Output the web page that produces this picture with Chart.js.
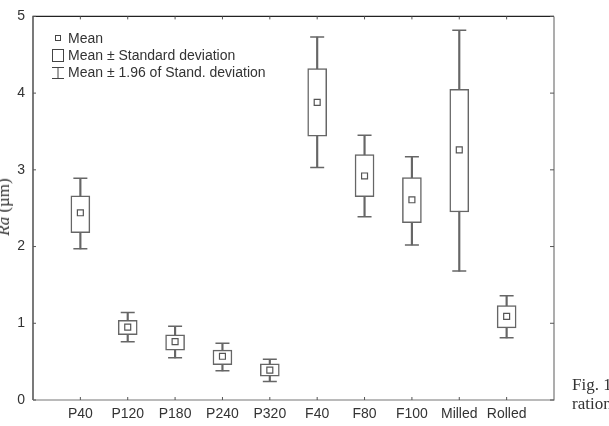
<!DOCTYPE html>
<html>
<head>
<meta charset="utf-8">
<script src="https://cdn.jsdelivr.net/npm/chart.js@4.4.1/dist/chart.umd.min.js"></script>
<style>
  html, body { margin: 0; padding: 0; background: #fff; overflow: hidden; }
  #wrap { position: relative; width: 609px; height: 426px; overflow: hidden; }
  #chart { position: absolute; left: 0; top: 0; }
  .ylabel {
    position: absolute; left: 4px; top: 207px;
    transform: translate(-50%, -50%) rotate(-90deg);
    font-family: "Liberation Serif", "DejaVu Serif", serif; font-size: 17px; color: #333;
    white-space: nowrap;
  }
  .caption {
    position: absolute; left: 572px;
    font-family: "Liberation Serif", "DejaVu Serif", serif; font-size: 17px; color: #333;
    white-space: nowrap;
  }
</style>
</head>
<body>
<div id="wrap">
  <canvas id="chart" width="609" height="426"></canvas>
  <div class="ylabel"><i>Ra</i> (µm)</div>
  <div class="caption" style="top:375px">Fig. 1</div>
  <div class="caption" style="top:394px">ration</div>
</div>
<script>
// dados
const categories = ['P40', 'P120', 'P180', 'P240', 'P320', 'F40', 'F80', 'F100', 'Milled', 'Rolled'];
const means  = [2.44, 0.95, 0.76, 0.57, 0.39, 3.88, 2.92, 2.61, 3.26, 1.09];
const sdLow  = [2.18, 0.85, 0.65, 0.46, 0.31, 3.44, 2.65, 2.31, 2.45, 0.94];
const sdHigh = [2.66, 1.04, 0.85, 0.65, 0.47, 4.32, 3.20, 2.90, 4.05, 1.23];
const ciLow  = [1.97, 0.76, 0.55, 0.38, 0.24, 3.03, 2.39, 2.02, 1.68, 0.81];
const ciHigh = [2.89, 1.14, 0.96, 0.74, 0.53, 4.73, 3.45, 3.17, 4.82, 1.36];
const yTicks = [0, 1, 2, 3, 4, 5];

const lineColor = '#666';
const textColor = '#333';

// moldura + ticks internos
const framePlugin = {
    id: 'frame',
    afterDatasetsDraw(chart) {
        const { ctx, chartArea: a, scales } = chart;
        ctx.save();
        ctx.lineWidth = 1.2;
        ctx.strokeStyle = '#222';
        ctx.beginPath();
        ctx.moveTo(a.left, a.bottom); ctx.lineTo(a.left, a.top); ctx.lineTo(a.right, a.top);
        ctx.stroke();
        ctx.strokeStyle = '#777';
        ctx.beginPath();
        ctx.moveTo(a.right, a.top); ctx.lineTo(a.right, a.bottom); ctx.lineTo(a.left, a.bottom);
        ctx.stroke();

        ctx.lineWidth = 1;
        ctx.strokeStyle = '#555';
        ctx.beginPath();
        yTicks.forEach(v => {
            const y = scales.y.getPixelForValue(v);
            ctx.moveTo(a.left, y); ctx.lineTo(a.left + 3, y);
            ctx.moveTo(a.right, y); ctx.lineTo(a.right - 4, y);
        });
        categories.forEach((c, i) => {
            const x = scales.x.getPixelForValue(i + 1);
            ctx.moveTo(x, a.top); ctx.lineTo(x, a.top + 3);
            ctx.moveTo(x, a.bottom); ctx.lineTo(x, a.bottom - 3);
        });
        ctx.stroke();
        ctx.restore();
    }
};

// legenda dentro da área do gráfico
const legendPlugin = {
    id: 'boxLegend',
    afterDraw(chart) {
        const { ctx } = chart;
        ctx.save();
        ctx.strokeStyle = '#444';
        ctx.lineWidth = 1;
        // Mean
        ctx.strokeRect(55.5, 35.5, 5, 5);
        // Mean ± SD
        ctx.strokeRect(52.5, 49.5, 11, 12);
        // Mean ± 1.96 SD
        ctx.beginPath();
        ctx.moveTo(58, 67); ctx.lineTo(58, 79);
        ctx.moveTo(52, 67.5); ctx.lineTo(64, 67.5);
        ctx.moveTo(52, 78.5); ctx.lineTo(64, 78.5);
        ctx.stroke();

        ctx.fillStyle = textColor;
        ctx.font = '14px "Liberation Sans", Arial, sans-serif';
        ctx.textBaseline = 'middle';
        ctx.fillText('Mean', 68, 39);
        ctx.fillText('Mean ± Standard deviation', 68, 56);
        ctx.fillText('Mean ± 1.96 of Stand. deviation', 68, 73);
        ctx.restore();
    }
};

new Chart(document.getElementById('chart'), {
    type: 'bar',
    data: {
        datasets: [
            {
                label: 'whisker',
                data: categories.map((c, i) => ({ x: i + 1, y: [ciLow[i], ciHigh[i]] })),
                backgroundColor: lineColor,
                barThickness: 1.5,
                grouped: false,
                order: 4
            },
            {
                label: 'box',
                data: categories.map((c, i) => ({ x: i + 1, y: [sdLow[i], sdHigh[i]] })),
                backgroundColor: '#fff',
                borderColor: lineColor,
                borderWidth: 1.5,
                borderSkipped: false,
                barThickness: 19,
                grouped: false,
                order: 3
            },
            {
                label: 'caps',
                type: 'scatter',
                data: categories.flatMap((c, i) => [{ x: i + 1, y: ciLow[i] }, { x: i + 1, y: ciHigh[i] }]),
                pointStyle: 'line',
                pointRadius: 7,
                borderColor: lineColor,
                borderWidth: 1.5,
                order: 2
            },
            {
                label: 'mean',
                type: 'scatter',
                data: categories.map((c, i) => ({ x: i + 1, y: means[i] })),
                pointStyle: 'rect',
                pointRadius: 4.2,
                backgroundColor: '#fff',
                borderColor: '#555',
                borderWidth: 1.2,
                order: 1
            }
        ]
    },
    options: {
        responsive: false,
        animation: false,
        layout: { padding: { top: 9.5, right: 55, left: 0, bottom: 0 } },
        plugins: { legend: { display: false }, tooltip: { enabled: false } },
        scales: {
            x: {
                type: 'linear',
                offset: false,
                min: 0,
                max: 11,
                afterBuildTicks: scale => { scale.ticks = categories.map((c, i) => ({ value: i + 1 })); },
                afterFit: scale => { scale.height = 26; },
                grid: { display: false, drawTicks: false },
                border: { display: false },
                ticks: {
                    autoSkip: false,
                    maxRotation: 0,
                    padding: 6,
                    color: textColor,
                    font: { family: '"Liberation Sans", Arial, sans-serif', size: 14 },
                    callback: v => categories[v - 1] || ''
                }
            },
            y: {
                min: 0,
                max: 5,
                afterBuildTicks: scale => { scale.ticks = yTicks.map(v => ({ value: v })); },
                afterFit: scale => { scale.width = 33; },
                grid: { display: false, drawTicks: false },
                border: { display: false },
                ticks: {
                    padding: 8,
                    color: textColor,
                    font: { family: '"Liberation Sans", Arial, sans-serif', size: 14 }
                }
            }
        }
    },
    plugins: [framePlugin, legendPlugin]
});
</script>
</body>
</html>
